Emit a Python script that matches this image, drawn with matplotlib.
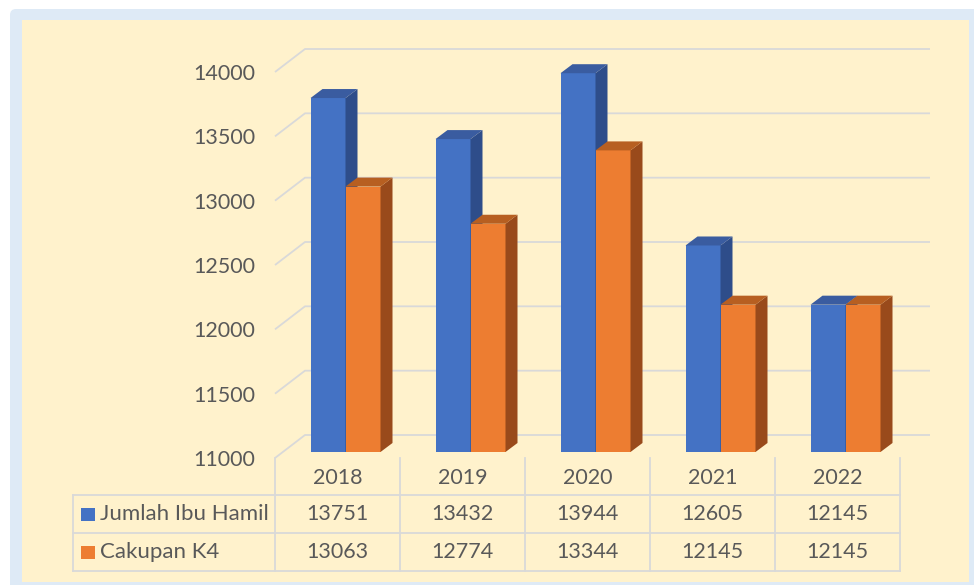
import matplotlib
matplotlib.use("Agg")
import matplotlib.pyplot as plt
from matplotlib import transforms
from matplotlib.patches import Rectangle, FancyBboxPatch

years = ["2018", "2019", "2020", "2021", "2022"]
jumlah_ibu_hamil = [13751, 13432, 13944, 12605, 12145]
cakupan_k4 = [13063, 12774, 13344, 12145, 12145]
series_names = ["Jumlah Ibu Hamil", "Cakupan K4"]
y_ticks = [11000, 11500, 12000, 12500, 13000, 13500, 14000]

W, H = 974, 585
plt.rcParams['font.family'] = ['Lato', 'DejaVu Sans']
TXT = '#595959'
GRID = '#D9D9D9'
FS = 15.5
front_c = ['#4472C4', '#ED7D31']
side_c = ['#2E4D8A', '#994A1B']
top_c = ['#3A5CA0', '#B75F21']

fig = plt.figure(figsize=(W / 100, H / 100), dpi=100)

# background / frame in pixel coords
bg = fig.add_axes([0, 0, 1, 1])
bg.set_xlim(0, W)
bg.set_ylim(H, 0)
bg.axis('off')
bg.add_patch(FancyBboxPatch((10, 9), W, H, boxstyle="round,pad=0,rounding_size=6",
                            fc='#DEEAF6', ec='none'))
bg.add_patch(Rectangle((22, 20), 947, 562, fc='#FFF2CC', ec='none'))

# main axes = plane of the bar fronts
ax = fig.add_axes([283 / W, (H - 452) / H, 625 / W, 386 / H])
ax.set_xlim(-0.5, len(years) - 0.5)
ax.set_ylim(y_ticks[0], y_ticks[-1])
ax.axis('off')

px = 1 / 100  # inches per pixel


def shift(dx, dy):
    return ax.transData + transforms.ScaledTranslation(dx * px, dy * px, fig.dpi_scale_trans)


front = shift(-8, -6)
back = shift(22, 17)

# gridlines: slanted edge on the left wall + horizontal line on the back wall
for v in y_ticks:
    p0 = front.transform((-0.5, v))
    p1 = back.transform((-0.5, v))
    p2 = back.transform((len(years) - 0.5, v))
    xs, ys = zip(*[p0, p1, p2])
    ax.plot(xs, ys, color=GRID, lw=1.3, transform=None, zorder=1, clip_on=False,
            solid_capstyle='butt')
    ax.text(-0.5, v, str(v), transform=shift(-28, -8), ha='right', va='center',
            fontsize=FS, color=TXT)

# bars with depth
bw = 0.28
ddx, ddy = 12 * 0.008, 9 * 3000 / 386
base = y_ticks[0]
for s, vals in enumerate([jumlah_ibu_hamil, cakupan_k4]):
    for i, v in enumerate(vals):
        x0 = i - bw + s * bw
        x1 = x0 + bw
        z = 3 + s
        ax.bar(x0, v - base, bottom=base, width=bw, align='edge', color=front_c[s],
               zorder=z, clip_on=False)
        ax.fill([x1, x1 + ddx, x1 + ddx, x1], [base, base + ddy, v + ddy, v],
                color=side_c[s], zorder=z, clip_on=False, lw=0)
        ax.fill([x0, x1, x1 + ddx, x0 + ddx], [v, v, v + ddy, v + ddy],
                color=top_c[s], zorder=z, clip_on=False, lw=0)

# data table
tb = transforms.blended_transform_factory(ax.transData, bg.transData) + \
    transforms.ScaledTranslation(-8 * px, 0, fig.dpi_scale_trans)
row_y = [458, 495, 533, 571]
n = len(years)
for i in range(n + 1):
    ax.plot([i - 0.5, i - 0.5], [row_y[0], row_y[-1]], color=GRID, lw=1.3,
            transform=tb, clip_on=False)
left_px = 73
for y in row_y[1:]:
    p_right = tb.transform((n - 0.5, y))
    p_left = bg.transData.transform((left_px, y))
    ax.plot([p_left[0], p_right[0]], [p_left[1], p_right[1]], color=GRID, lw=1.3,
            transform=None, clip_on=False)
bg.plot([left_px, left_px], [row_y[1], row_y[-1]], color=GRID, lw=1.3)

for i, yr in enumerate(years):
    ax.text(i, (row_y[0] + row_y[1]) / 2 + 1, yr, transform=tb, ha='center',
            va='center', fontsize=FS, color=TXT)
    for r, vals in enumerate([jumlah_ibu_hamil, cakupan_k4]):
        ax.text(i, (row_y[r + 1] + row_y[r + 2]) / 2, str(vals[i]), transform=tb,
                ha='center', va='center', fontsize=FS, color=TXT)

for r, name in enumerate(series_names):
    yc = (row_y[r + 1] + row_y[r + 2]) / 2
    bg.add_patch(Rectangle((81, yc - 6), 14, 13, fc=front_c[r], ec='none'))
    bg.text(100, yc, name, ha='left', va='center', fontsize=16, color=TXT)

fig.savefig('out.png', dpi=100)
